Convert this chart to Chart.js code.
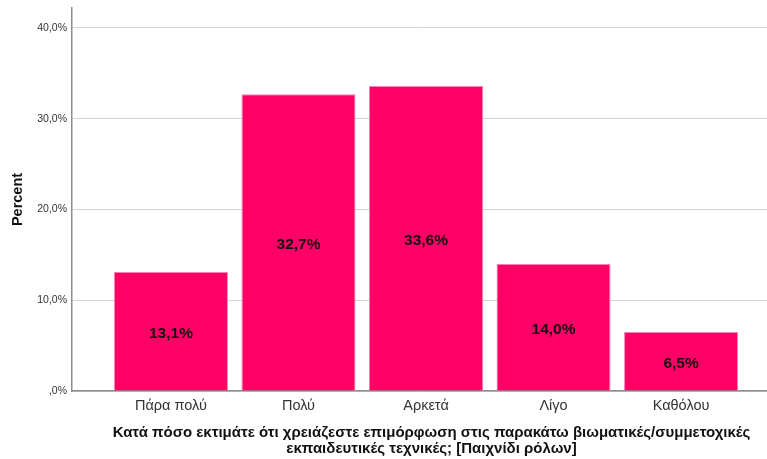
<!DOCTYPE html>
<html>
<head>
<meta charset="utf-8">
<script src="https://cdn.jsdelivr.net/npm/chart.js@4.4.1/dist/chart.umd.min.js"></script>
<style>
  body { margin: 0; background: #fff; }
  #wrap { width: 767px; height: 459px; }
</style>
</head>
<body>
<div id="wrap"><canvas id="roleChart"></canvas></div>
<script>
const categories = ['Πάρα πολύ', 'Πολύ', 'Αρκετά', 'Λίγο', 'Καθόλου'];
const percents = [13.1, 32.7, 33.6, 14.0, 6.5];
const yTicks = [0, 10, 20, 30, 40];

const axisTitle = [
  'Κατά πόσο εκτιμάτε ότι χρειάζεστε επιμόρφωση στις παρακάτω βιωματικές/συμμετοχικές',
  'εκπαιδευτικές τεχνικές; [Παιχνίδι ρόλων]'
];

const FONT = '"Liberation Sans", Arial, sans-serif';

function fmtPct(v) {
  // SPSS style: comma decimals, zero shown as ",0%"
  if (v === 0) return ',0%';
  return v.toFixed(1).replace('.', ',') + '%';
}

// writes the percentage in the middle of each bar
const barLabels = {
  id: 'barLabels',
  afterDatasetsDraw(chart) {
    const ctx = chart.ctx;
    const meta = chart.getDatasetMeta(0);
    ctx.save();
    ctx.font = 'bold 15.5px ' + FONT;
    ctx.fillStyle = '#111';
    ctx.textAlign = 'center';
    ctx.textBaseline = 'middle';
    meta.data.forEach((bar, i) => {
      const mid = (bar.y + bar.base) / 2;
      ctx.fillText(fmtPct(percents[i]), bar.x, mid + 2);
    });
    ctx.restore();
  }
};

// two-line x axis title, sitting a little right of the axis centre
const xTitle = {
  id: 'xTitle',
  afterDraw(chart) {
    const ctx = chart.ctx;
    const xs = chart.scales.x;
    const cx = (xs.left + xs.right) / 2 + 12;
    ctx.save();
    ctx.font = 'bold 15px ' + FONT;
    ctx.fillStyle = '#111';
    ctx.textAlign = 'center';
    ctx.textBaseline = 'alphabetic';
    axisTitle.forEach((line, i) => {
      ctx.fillText(line, cx, 437 + i * 16);
    });
    ctx.restore();
  }
};

const data = {
  datasets: [{
    label: 'Percent',
    data: percents.map((v, i) => ({ x: i, y: v })),
    backgroundColor: '#ff0066',
    borderColor: '#ff7fb0',
    borderWidth: 1,
    barPercentage: 0.894,
    categoryPercentage: 1
  }]
};

const options = {
  responsive: true,
  maintainAspectRatio: false,
  animation: false,
  layout: { padding: { top: 8, right: 0, left: 0, bottom: 0 } },
  plugins: {
    legend: { display: false },
    tooltip: { enabled: false }
  },
  scales: {
    x: {
      type: 'linear',
      offset: false,
      min: -0.776,
      max: 4.674,
      grid: { display: false, drawTicks: false, offset: false },
      border: { display: true, color: '#8c8c8c', width: 1.5 },
      afterBuildTicks: (axis) => { axis.ticks = categories.map((c, i) => ({ value: i })); },
      afterFit: (axis) => { axis.height = 68; axis.paddingLeft = 0; axis.paddingRight = 0; },
      ticks: {
        autoSkip: false,
        maxRotation: 0,
        padding: 6,
        color: '#333',
        font: { family: FONT, size: 14.5 },
        callback: (v) => categories[v]
      }
    },
    y: {
      min: 0,
      max: 42.2,
      grid: { color: '#d4d4d4', lineWidth: 1, drawTicks: false },
      border: { display: true, color: '#8c8c8c', width: 1.5 },
      afterBuildTicks: (axis) => { axis.ticks = yTicks.map(v => ({ value: v })); },
      afterFit: (axis) => { axis.width = 72; axis.paddingTop = 0; axis.paddingBottom = 0; },
      ticks: {
        padding: 5,
        color: '#333',
        font: { family: FONT, size: 10.5 },
        callback: (v) => fmtPct(v)
      },
      title: {
        display: true,
        text: 'Percent',
        color: '#111',
        padding: { top: 9, bottom: 0 },
        font: { family: FONT, size: 14.5, weight: 'bold' }
      }
    }
  }
};

const chart = new Chart(document.getElementById('roleChart'), {
  type: 'bar',
  data,
  options,
  plugins: [barLabels, xTitle]
});
</script>
</body>
</html>
